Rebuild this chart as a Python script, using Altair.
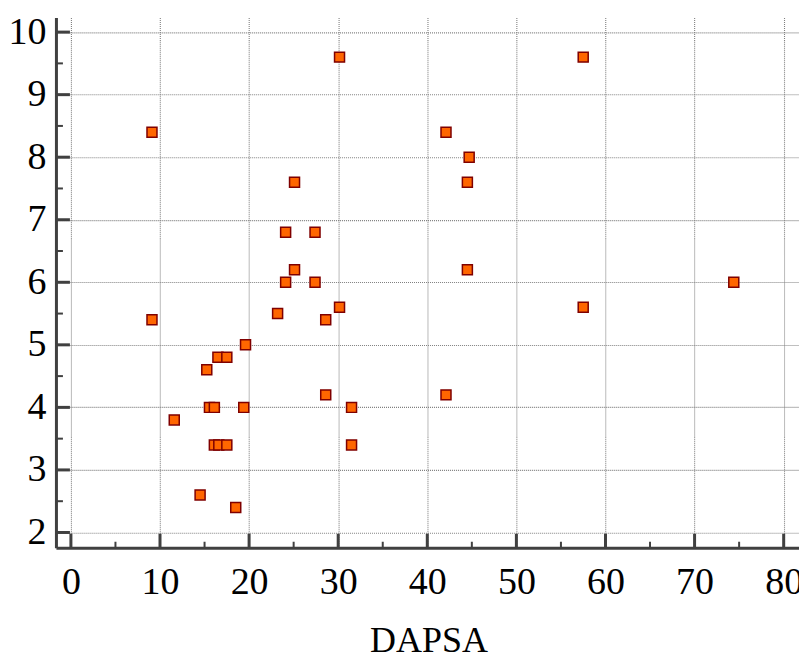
import altair as alt
import pandas as pd

# data
dapsa = [9.1, 9.1, 11.6, 14.5, 15.25, 15.55, 16.1, 16.1, 16.6, 16.5, 17.5, 17.5,
         18.5, 19.4, 19.6, 23.2, 24.1, 24.1, 25.1, 25.1, 27.4, 27.4, 28.6, 28.6,
         30.15, 30.15, 31.5, 31.5, 42.1, 42.1, 44.7, 44.5, 44.5, 57.5, 57.5, 74.4]
yvals = [8.4, 5.4, 3.8, 2.6, 4.6, 4.0, 4.0, 3.4, 3.4, 4.8, 4.8, 3.4,
         2.4, 4.0, 5.0, 5.5, 6.0, 6.8, 6.2, 7.6, 6.8, 6.0, 5.4, 4.2,
         5.6, 9.6, 4.0, 3.4, 8.4, 4.2, 8.0, 7.6, 6.2, 9.6, 5.6, 6.0]

x_major = [0, 10, 20, 30, 40, 50, 60, 70, 80]
x_minor = [5, 15, 25, 35, 45, 55, 65, 75]
y_major = [2, 3, 4, 5, 6, 7, 8, 9, 10]
y_minor = [2.5, 3.5, 4.5, 5.5, 6.5, 7.5, 8.5, 9.5]

W, H = 744, 531
xs = alt.Scale(domain=[-1.68, 81.72], nice=False, zero=False)
ys = alt.Scale(domain=[1.756, 10.235], nice=False, zero=False)

pts = pd.DataFrame({"x": dapsa, "y": yvals})

points = alt.Chart(pts).mark_square(
    size=100, fill="#ff6600", stroke="#7f0000", strokeWidth=1.5, opacity=1
).encode(
    x=alt.X("x:Q", scale=xs, axis=alt.Axis(
        values=x_major, format="d", title="DAPSA", grid=True, ticks=False,
        labelPadding=16, titleY=104, titleX=373, titleBaseline="alphabetic",
        titleAlign="center", titleFontSize=36)),
    y=alt.Y("y:Q", scale=ys, axis=alt.Axis(
        values=y_major, format="d", title="", grid=True, ticks=False,
        labelPadding=10)),
)

def yticks(vals, length, width):
    return alt.Chart(pd.DataFrame({"y": vals})).mark_rule(
        color="#404040", strokeWidth=width
    ).encode(y=alt.Y("y:Q", scale=ys),
             x=alt.value(0), x2=alt.value(length))

def xticks(vals, length, width):
    return alt.Chart(pd.DataFrame({"x": vals})).mark_rule(
        color="#404040", strokeWidth=width
    ).encode(x=alt.X("x:Q", scale=xs),
             y=alt.value(H), y2=alt.value(H - length))

chart = alt.layer(
    points,
    yticks(y_major, 14, 3), yticks(y_minor, 7, 2),
    xticks(x_major, 14, 3), xticks(x_minor, 6, 2),
).properties(
    width=W, height=H,
    autosize=alt.AutoSizeParams(type="none"),
    padding={"left": 48, "top": 9, "right": 0, "bottom": 120},
).configure_view(strokeWidth=0).configure_axis(
    domainColor="#404040", domainWidth=3,
    gridColor="#808080", gridDash=[1, 1], gridWidth=1.1, gridOpacity=1,
    labelFont="Liberation Serif", labelFontSize=38, labelColor="black",
    titleFont="Liberation Serif", titleFontSize=36, titleFontWeight="normal",
    titleColor="black",
)

chart.save("out.html", embed_options={"renderer": "svg", "actions": False})
